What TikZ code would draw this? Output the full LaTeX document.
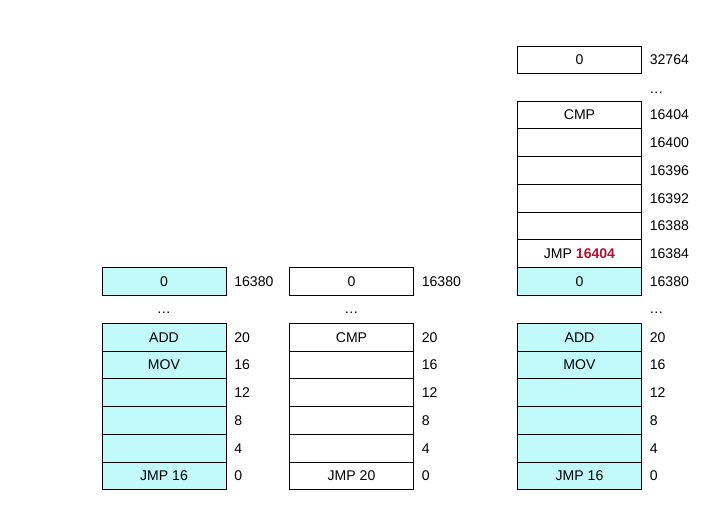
\documentclass[tikz,border=0pt]{standalone}
\usepackage{fontspec}
\setmainfont{Liberation Sans}
\usepackage{tikz}
\usetikzlibrary{positioning}
\definecolor{memcyan}{RGB}{194,250,252}
\definecolor{jmpred}{RGB}{178,18,50}
\tikzset{
  cell/.style={draw,line width=0.6pt,minimum width=3.1cm,minimum height=0.694cm,inner sep=0pt,outer sep=0pt,font=\fontsize{10}{12}\selectfont},
  used/.style={cell,fill=memcyan},
  addr/.style={inner sep=0pt,font=\fontsize{10}{12}\selectfont},
  gap/.style={inner sep=0pt,font=\fontsize{10}{12}\selectfont},
}

\begin{document}
\begin{tikzpicture}[x=0.025cm,y=-0.025cm]
\useasboundingbox (0,0) rectangle (712,506);
% left: old program
\node[used] (a0) at (164,476) {JMP 16};
\node[used,above=0pt of a0] (a4) {};
\node[used,above=0pt of a4] (a8) {};
\node[used,above=0pt of a8] (a12) {};
\node[used,above=0pt of a12] (a16) {MOV};
\node[used,above=0pt of a16] (a20) {ADD};
\node[gap] (agap) at (164,313) {\dots};
\node[used] (atop) at (164,281.5) {0};
% middle: new program
\node[cell] (b0) at (351.5,476) {JMP 20};
\node[cell,above=0pt of b0] (b4) {};
\node[cell,above=0pt of b4] (b8) {};
\node[cell,above=0pt of b8] (b12) {};
\node[cell,above=0pt of b12] (b16) {};
\node[cell,above=0pt of b16] (b20) {CMP};
\node[gap] (bgap) at (351.5,313) {\dots};
\node[cell] (btop) at (351.5,281.5) {0};
% right: both together
\node[used] (c0) at (579.5,476) {JMP 16};
\node[used,above=0pt of c0] (c4) {};
\node[used,above=0pt of c4] (c8) {};
\node[used,above=0pt of c8] (c12) {};
\node[used,above=0pt of c12] (c16) {MOV};
\node[used,above=0pt of c16] (c20) {ADD};
\node[used] (c16380) at (579.5,281.5) {0};
\node[cell,above=0pt of c16380] (c16384) {JMP \textcolor{jmpred}{\textbf{16404}}};
\node[cell,above=0pt of c16384] (c16388) {};
\node[cell,above=0pt of c16388] (c16392) {};
\node[cell,above=0pt of c16392] (c16396) {};
\node[cell,above=0pt of c16396] (c16400) {};
\node[cell,above=0pt of c16400] (c16404) {CMP};
\node[cell] (c32764) at (579.5,60) {0};
% addresses
\foreach \n/\t in {a0/0,a4/4,a8/8,a12/12,a16/16,a20/20,atop/16380,
                   b0/0,b4/4,b8/8,b12/12,b16/16,b20/20,btop/16380,
                   c0/0,c4/4,c8/8,c12/12,c16/16,c20/20,c16380/16380,c16384/16384,
                   c16388/16388,c16392/16392,c16396/16396,c16400/16400,c16404/16404,c32764/32764}
  \node[addr,right=0.2cm of \n] (\n-l) {\t};
\node[gap,anchor=west] (cgap1) at (649,313) {\dots};
\node[gap,anchor=west] (cgap2) at (649,93) {\dots};
\end{tikzpicture}
\end{document}
